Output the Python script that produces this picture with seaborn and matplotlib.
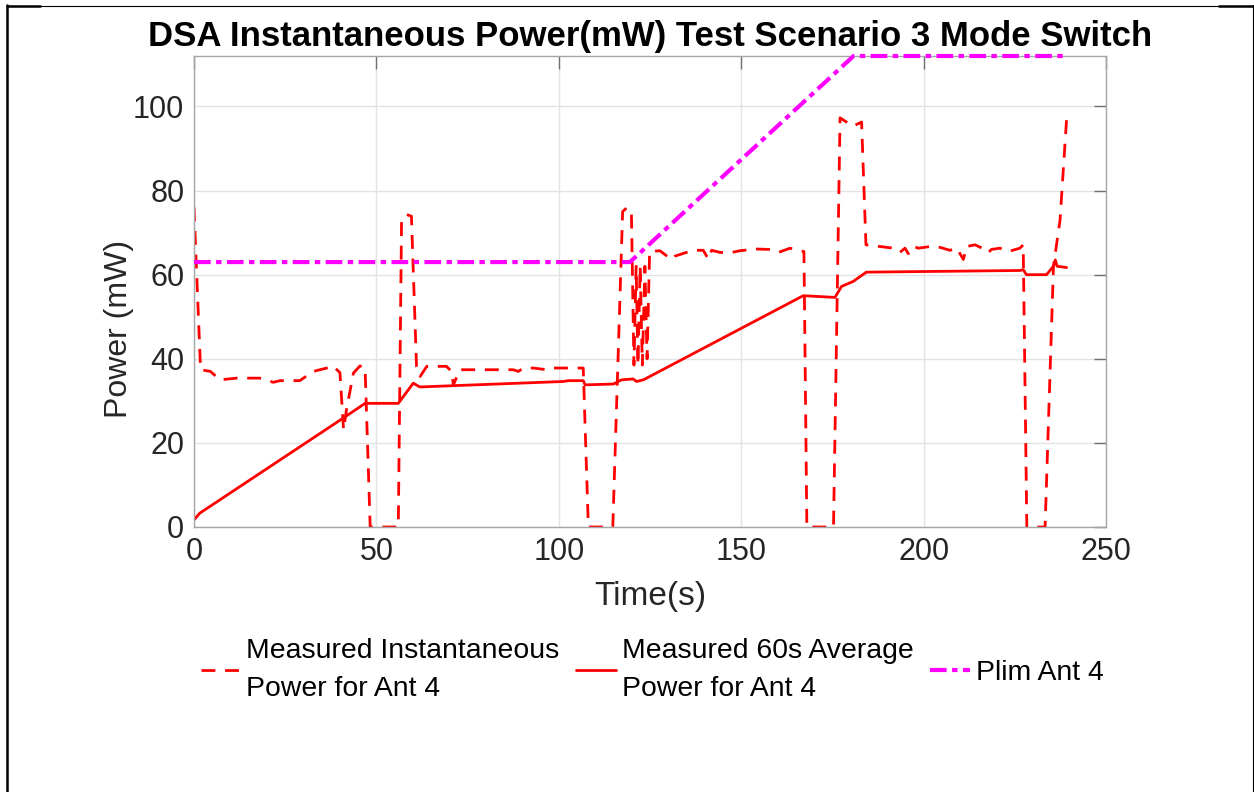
import seaborn as sns
import matplotlib.pyplot as plt
import pandas as pd
from matplotlib.lines import Line2D

# instantaneous power (dashed red)
t_inst = [0, 1.8, 4.5, 7.1, 11.7, 18, 20, 21.7, 23.6, 29, 32.7, 36.4, 38.1, 40, 41, 41.8,
          43.7, 45.5, 46.9, 48.3, 56, 56.9, 58.3, 59.6, 61, 62, 63.8, 69.2, 70.6, 71.1,
          72.9, 87.5, 88.9, 90.3, 93, 96.7, 98, 106.7, 108.1, 114.8, 117.5, 118.6, 119.9,
          120.6, 121.2, 121.7, 122.3, 122.9, 123.6, 124.2, 124.9, 127.7, 130.9, 131.8, 135,
          136.9, 139.6, 141, 141.9, 144.2, 146.9, 149.7, 154.2, 157.9, 160.2, 163.4, 165.2,
          167.2, 168, 175.3, 177.1, 178.5, 180.7, 183, 184.2, 186.2, 188, 191.7, 193.5,
          194.9, 195.8, 197.2, 198.6, 201.8, 204.5, 207.2, 209.1, 210.9, 211.8, 214.1,
          216.8, 217.7, 218.6, 220.9, 223.2, 226.4, 227.3, 228.3, 233.3, 235.6, 237.4, 239.2]
p_inst = [76, 37.4, 37, 35, 35.4, 35.4, 35, 34.4, 34.8, 34.8, 37, 37.8, 38.3, 36.7, 23.1, 27.9,
          36.6, 38.3, 37.8, 0, 0, 73, 74.3, 73.9, 38.2, 35.8, 38.2, 38.2, 37, 33.8,
          37.4, 37.4, 37, 37.8, 37.8, 37.4, 37.8, 37.8, 0, 0, 75, 75.9, 75.1,
          38.5, 62, 38.5, 62, 38.5, 62, 40, 65.5, 65.7, 63.6, 64.4, 65.3,
          65.8, 65.8, 63.7, 65.8, 65.3, 65.2, 65.7, 66.1, 66, 65.3, 66.3, 65.8,
          65.5, 0, 0, 97.3, 96.5, 95.3, 96.3, 67.1, 66.9, 66.7, 66.3, 65.3,
          66.3, 65, 66.7, 66.3, 66.7, 66.5, 65.8, 66.3, 63.6, 66.7, 67.1,
          66, 65.2, 66, 66.3, 65.5, 66.3, 67.1, 0, 0, 62, 73, 97]

# 60 s average power (solid red)
t_avg = [0, 1.6, 40.9, 46.9, 56, 60.1, 61.9, 101.2, 102.6, 106.7, 107.2, 115, 117.2, 120.4,
         121.3, 123.2, 167, 175.7, 177.5, 180.7, 184.3, 226.4, 227.3, 228.2, 233.7, 235.6,
         236.1, 236.6, 239.2]
p_avg = [1.7, 3.3, 25.9, 29.4, 29.4, 34.2, 33.3, 34.6, 34.8, 34.8, 33.8, 34, 35, 35.2,
         34.6, 35, 55, 54.6, 57.2, 58.4, 60.6, 61, 61.2, 60, 60, 62,
         63.5, 62, 61.7]

# power limit (magenta dash-dot)
t_plim = [0, 119.5, 180.8, 238.8]
p_plim = [63, 63, 112, 112]

labels = ['Measured Instantaneous\nPower for Ant 4',
          'Measured 60s Average\nPower for Ant 4',
          'Plim Ant 4']

sns.set_theme(style='white')
plt.rcParams['font.family'] = ['Liberation Sans', 'DejaVu Sans']

W, H = 1254, 792
fig = plt.figure(figsize=(W / 100, H / 100), dpi=100)
ax = fig.add_axes([194 / W, 1 - 527 / H, (1106 - 194) / W, (527 - 56) / H])

inst = pd.DataFrame({'t': t_inst, 'p': p_inst})
avg = pd.DataFrame({'t': t_avg, 'p': p_avg})
plim = pd.DataFrame({'t': t_plim, 'p': p_plim})

sns.lineplot(data=inst, x='t', y='p', ax=ax, color='red', lw=2, linestyle=(0, (5, 3.5)),
             estimator=None, sort=False, label=labels[0])
sns.lineplot(data=avg, x='t', y='p', ax=ax, color='red', lw=2,
             estimator=None, sort=False, label=labels[1])
sns.lineplot(data=plim, x='t', y='p', ax=ax, color='#ff00ff', lw=3,
             linestyle=(0, (4, 1.3, 1.3, 1.3)), estimator=None, sort=False, label=labels[2],
             clip_on=False, zorder=5)

ax.set_xlim(0, 250)
ax.set_ylim(0, 112)
ax.set_xticks([0, 50, 100, 150, 200, 250])
ax.set_yticks([0, 20, 40, 60, 80, 100])
ax.grid(True, color='#e3e3e3', lw=1)
for s in ax.spines.values():
    s.set_color('#a6a6a6')
    s.set_linewidth(1)
ax.tick_params(direction='in', length=9, width=1, color='#707070', top=True, right=True,
               labelsize=22, labelcolor='#262626', pad=7)
ax.set_xlabel('Time(s)', fontsize=24, color='#262626', labelpad=10)
ax.set_ylabel('Power (mW)', fontsize=23, color='#262626')
ax.yaxis.set_label_coords(-0.066, 0.42)
ax.set_title('DSA Instantaneous Power(mW) Test Scenario 3 Mode Switch',
             fontsize=25, fontweight='bold', color='black', pad=7)

h, l = ax.get_legend_handles_labels()
ax.get_legend().remove()
leg = fig.legend(h, l, loc='upper center', bbox_to_anchor=(652 / W, 1 - 612 / H), ncol=3,
                 frameon=False, fontsize=20.4, handlelength=1.4, handletextpad=0.2,
                 columnspacing=0.6)
for txt in leg.get_texts():
    txt.set_linespacing(1.65)
    txt.set_color('black')

# page frame
fig.add_artist(Line2D([7 / W, 1253 / W], [1 - 6 / H, 1 - 6 / H], color='black', lw=0.8))
fig.add_artist(Line2D([7 / W, 40 / W], [1 - 5.5 / H, 1 - 5.5 / H], color='black', lw=1.8))
fig.add_artist(Line2D([1219 / W, 1253 / W], [1 - 5.5 / H, 1 - 5.5 / H], color='black', lw=1.8))
fig.add_artist(Line2D([7 / W, 7 / W], [0, 1 - 5 / H], color='black', lw=1.8))
fig.add_artist(Line2D([1252.5 / W, 1252.5 / W], [0, 1 - 5 / H], color='black', lw=0.8))

fig.savefig('out.png', dpi=100)
